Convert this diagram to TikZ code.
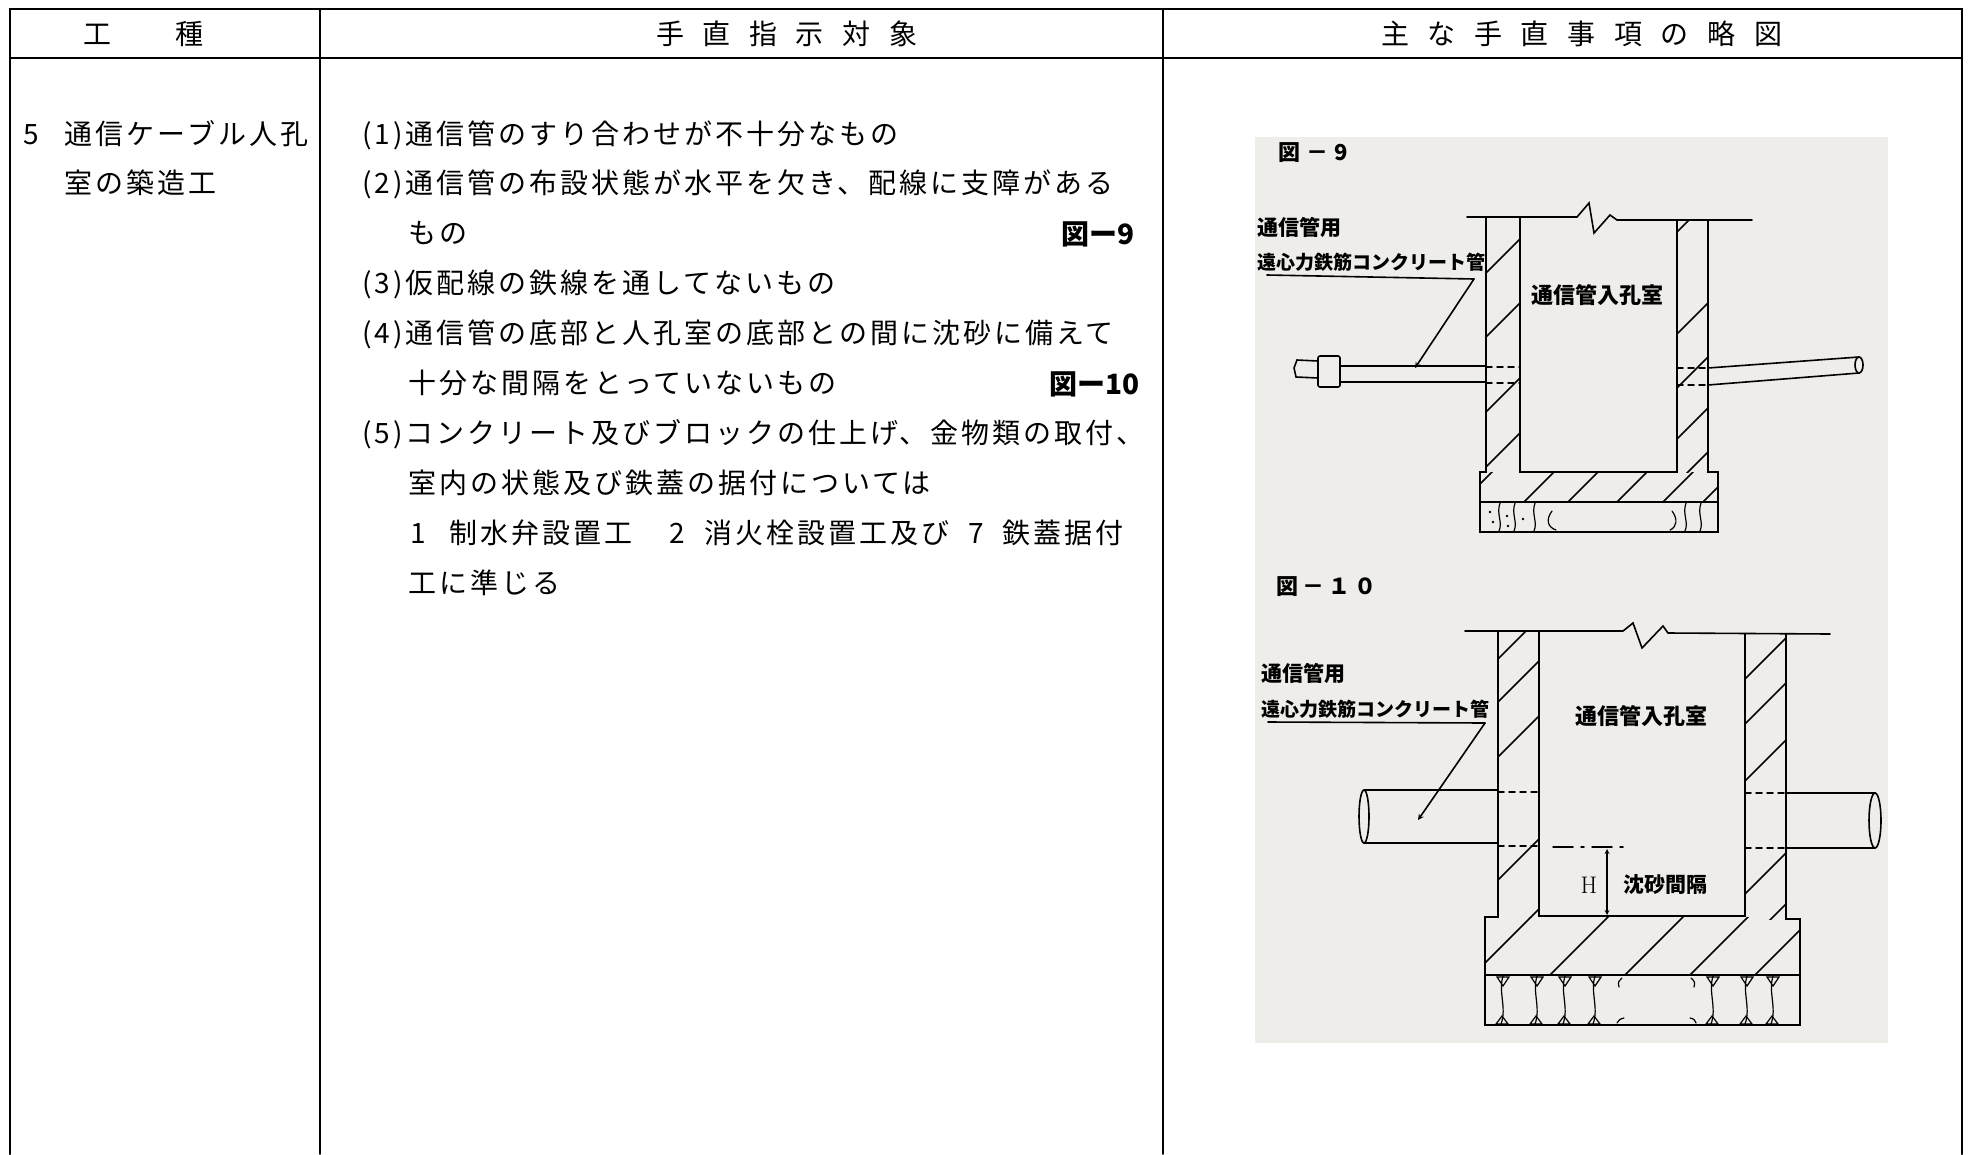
\documentclass[tikz,border=0pt]{standalone}
\usepackage{fontspec}
\newfontfamily\jp{Noto Sans CJK JP}[LetterSpace=10.7]
\newfontfamily\figjp{Noto Sans CJK JP}
\newcommand{\hgap}{\hspace{18.6pt}}
\definecolor{paper}{HTML}{EEEDE9}

\begin{document}
\begin{tikzpicture}[x=1pt,y=-1pt,line cap=round,
    txt/.style={inner sep=0pt, anchor=base west, font=\jp\fontsize{28}{28}\selectfont},
    lbl/.style={inner sep=0pt, anchor=west, font=\figjp\bfseries\fontsize{19}{19}\selectfont},
    room/.style={inner sep=0pt, font=\figjp\bfseries\fontsize{22}{22}\selectfont},
    figref/.style={inner sep=0pt, anchor=base east, font=\figjp\bfseries\fontsize{28}{28}\selectfont},
    rule/.style={line width=2.2pt},
    wall/.style={line width=1.6pt},
    hatch/.style={line width=1.5pt},
    hidden/.style={line width=1.5pt, dash pattern=on 6pt off 5pt}]
   \useasboundingbox (0,0) rectangle (1970,1154);
   % table
   \draw[rule] (10,1154) -- (10,9) -- (1962,9) -- (1962,1154);
   \draw[rule] (10,58) -- (1962,58);
   \draw[line width=1.5pt] (320,9) -- (320,1154) (1163,9) -- (1163,1154);
   \node[txt] (h1) at (83,44) {工\hspace{64pt}種};
   \node[txt] (h2) at (656,44) {手\hgap 直\hgap 指\hgap 示\hgap 対\hgap 象};
   \node[txt] (h3) at (1381,44) {主\hgap な\hgap 手\hgap 直\hgap 事\hgap 項\hgap の\hgap 略\hgap 図};
   \node[txt] (k1) at (23,144) {5\hspace{26pt}通信ケーブル人孔};
   \node[txt] (k2) at (64,193) {室の築造工};
   \foreach \x/\t [count=\i] in {362/{(1)通信管のすり合わせが不十分なもの},
       362/{(2)通信管の布設状態が水平を欠き、配線に支障がある},
       408/{もの},
       362/{(3)仮配線の鉄線を通してないもの},
       362/{(4)通信管の底部と人孔室の底部との間に沈砂に備えて},
       408/{十分な間隔をとっていないもの},
       362/{(5)コンクリート及びブロックの仕上げ、金物類の取付、},
       408/{室内の状態及び鉄蓋の据付については},
       410/{1\hspace{24pt}制水弁設置工\hspace{37pt}2\hspace{19pt}消火栓設置工及び\hspace{19pt}7\hspace{19pt}鉄蓋据付},
       408/{工に準じる}}
     \node[txt] (a\i) at (\x,{144+49.9*(\i-1)}) {\t};
   \node[figref] (r9) at (1135,244) {図ー9};
   \node[figref] (r10) at (1140,394) {図ー10};
   % scanned sketch
   \fill[paper] (1255,137) rectangle (1888,1043);
   % fig 9
   \node[lbl, font=\figjp\bfseries\fontsize{22}{22}\selectfont] (f9) at (1278,153) {図\hspace{6pt}－\hspace{6pt}9};
   \draw[wall] (1467,217) -- (1577,217) -- (1589,203) -- (1594,233) -- (1610,215) -- (1617,220) -- (1752,220);
   \draw[wall] (1486,217) -- (1486,472) -- (1480,472) -- (1480,532) -- (1718,532) -- (1718,472) -- (1708,472) -- (1708,220);
   \draw[wall] (1520,217) -- (1520,472) -- (1677,472) -- (1677,220);
   \draw[wall] (1480,502) -- (1718,502);
   \begin{scope}
     \clip (1486,217) rectangle (1520,472);
     \foreach \c in {1759,1823,1898,1953} \draw[hatch] (1400,\c-1400) -- (1900,\c-1900);
   \end{scope}
   \begin{scope}
     \clip (1677,220) rectangle (1708,472);
     \foreach \c in {1909,2011,2065,2116,2160} \draw[hatch] (1400,\c-1400) -- (1900,\c-1900);
   \end{scope}
   \begin{scope}
     \clip (1480,472) rectangle (1718,502);
     \foreach \c in {1964,2026,2070,2119,2165,2205} \draw[hatch] (1400,\c-1400) -- (1900,\c-1900);
   \end{scope}
   \foreach \x in {1500,1515,1535,1686,1701}
     \draw[line width=1.2pt] (\x,503) .. controls (\x-4,514) and (\x+3,522) .. (\x-1,531);
   \draw[line width=1.2pt] (1552,511) .. controls (1546,519) and (1547,527) .. (1556,530);
   \draw[line width=1.2pt] (1672,511) .. controls (1678,519) and (1677,527) .. (1670,530);
   \foreach \p in {(1490,512),(1493,522),(1507,516),(1508,526),(1523,519)} \fill \p circle (1.3);
   \draw[wall] (1318,361) -- (1297,360) -- (1294,368) -- (1296,377) -- (1318,378);
   \draw[wall, rounded corners=2pt] (1318,356) rectangle (1340,387);
   \draw[wall] (1340,366) -- (1486,366) (1340,382) -- (1486,382);
   \draw[hidden] (1486,367) -- (1520,367) (1486,383) -- (1520,383);
   \draw[hidden] (1677,368) -- (1708,368) (1677,385) -- (1708,385);
   \draw[wall] (1708,368) -- (1859,357) (1708,385) -- (1859,373);
   \draw[wall] (1859,365) ellipse (4 and 8);
   \node[lbl, font=\figjp\bfseries\fontsize{21}{21}\selectfont] (u9a) at (1257,227) {通信管用};
   \node[lbl] (u9b) at (1257,262) {遠心力鉄筋コンクリート管};
   \node[room] (m9) at (1597,295) {通信管入孔室};
   \coordinate (p9a) at (1267,275);
   \coordinate (p9b) at (1474,279);
   \coordinate (p9c) at (1415,368);
   \draw[wall] (p9a) -- (p9b);
   \draw[wall, -stealth] (p9b) -- (p9c);
   % fig 10
   \node[lbl, font=\figjp\bfseries\fontsize{22}{22}\selectfont] (f10) at (1276,587) {図\hspace{4pt}－\hspace{4pt}１\hspace{4pt}０};
   \draw[wall] (1465,631) -- (1623,631) -- (1633,623) -- (1642,648) -- (1663,626) -- (1668,633) -- (1830,634);
   \draw[wall] (1498,631) -- (1498,917) -- (1485,917) -- (1485,1025) -- (1800,1025) -- (1800,919) -- (1786,919) -- (1786,634);
   \draw[wall] (1539,631) -- (1539,916) -- (1745,916) -- (1745,634);
   \draw[wall] (1485,975) -- (1800,975);
   \begin{scope}
     \clip (1498,631) rectangle (1539,917);
     \foreach \c in {2157,2200,2255,2378,2448} \draw[hatch] (1400,\c-1400) -- (1900,\c-1900);
   \end{scope}
   \begin{scope}
     \clip (1745,634) rectangle (1786,919);
     \foreach \c in {2424,2469,2526,2639,2690} \draw[hatch] (1400,\c-1400) -- (1900,\c-1900);
   \end{scope}
   \begin{scope}
     \clip (1485,917) rectangle (1800,975);
     \foreach \c in {2448,2525,2600,2665,2730} \draw[hatch] (1400,\c-1400) -- (1900,\c-1900);
   \end{scope}
   \foreach \x in {1503,1537,1565,1595,1713,1747,1773} {
     \draw[line width=1.2pt] (\x,976) .. controls (\x-5,992) and (\x+4,1008) .. (\x-2,1024);
     \draw[line width=1.2pt] (\x-6,977) -- (\x+6,977) -- (\x,986) -- cycle;
     \draw[line width=1.2pt] (\x-7,1024) -- (\x+5,1024) -- (\x-1,1016) -- cycle;
   }
   \draw[line width=1.2pt] (1622,978) .. controls (1618,982) .. (1619,987);
   \draw[line width=1.2pt] (1617,1023) .. controls (1620,1019) .. (1624,1018);
   \draw[line width=1.2pt] (1691,978) .. controls (1695,982) .. (1694,987);
   \draw[line width=1.2pt] (1690,1018) .. controls (1694,1019) .. (1696,1023);
   \draw[wall] (1364,790) -- (1498,790) (1364,843) -- (1498,843);
   \draw[wall] (1364,816.5) ellipse (5 and 26.5);
   \draw[hidden] (1498,792) -- (1539,792) (1498,846) -- (1539,846);
   \draw[line width=1.5pt, dash pattern=on 20pt off 8pt on 3pt off 8pt] (1553,847) -- (1627,847);
   \draw[hidden] (1745,793) -- (1786,793) (1745,848) -- (1786,848);
   \draw[wall] (1786,793) -- (1875,793) (1786,848) -- (1875,848);
   \draw[wall] (1875,820.5) ellipse (6 and 27.5);
   \coordinate (ht) at (1607,849);
   \coordinate (hb) at (1607,915);
   \draw[line width=1.2pt, stealth-stealth] (ht) -- (hb);
   \node[inner sep=0pt, font=\fontsize{24}{24}\selectfont] (hl) at (1589,885) {H};
   \node[room, font=\figjp\bfseries\fontsize{21}{21}\selectfont] (sa) at (1665,885) {沈砂間隔};
   \node[lbl, font=\figjp\bfseries\fontsize{21}{21}\selectfont] (u10a) at (1261,673) {通信管用};
   \node[lbl] (u10b) at (1261,709) {遠心力鉄筋コンクリート管};
   \node[room] (m10) at (1641,716) {通信管入孔室};
   \coordinate (p10a) at (1268,722);
   \coordinate (p10b) at (1485,723);
   \coordinate (p10c) at (1418,820);
   \draw[wall] (p10a) -- (p10b);
   \draw[wall, -stealth] (p10b) -- (p10c);
\end{tikzpicture}
\end{document}
